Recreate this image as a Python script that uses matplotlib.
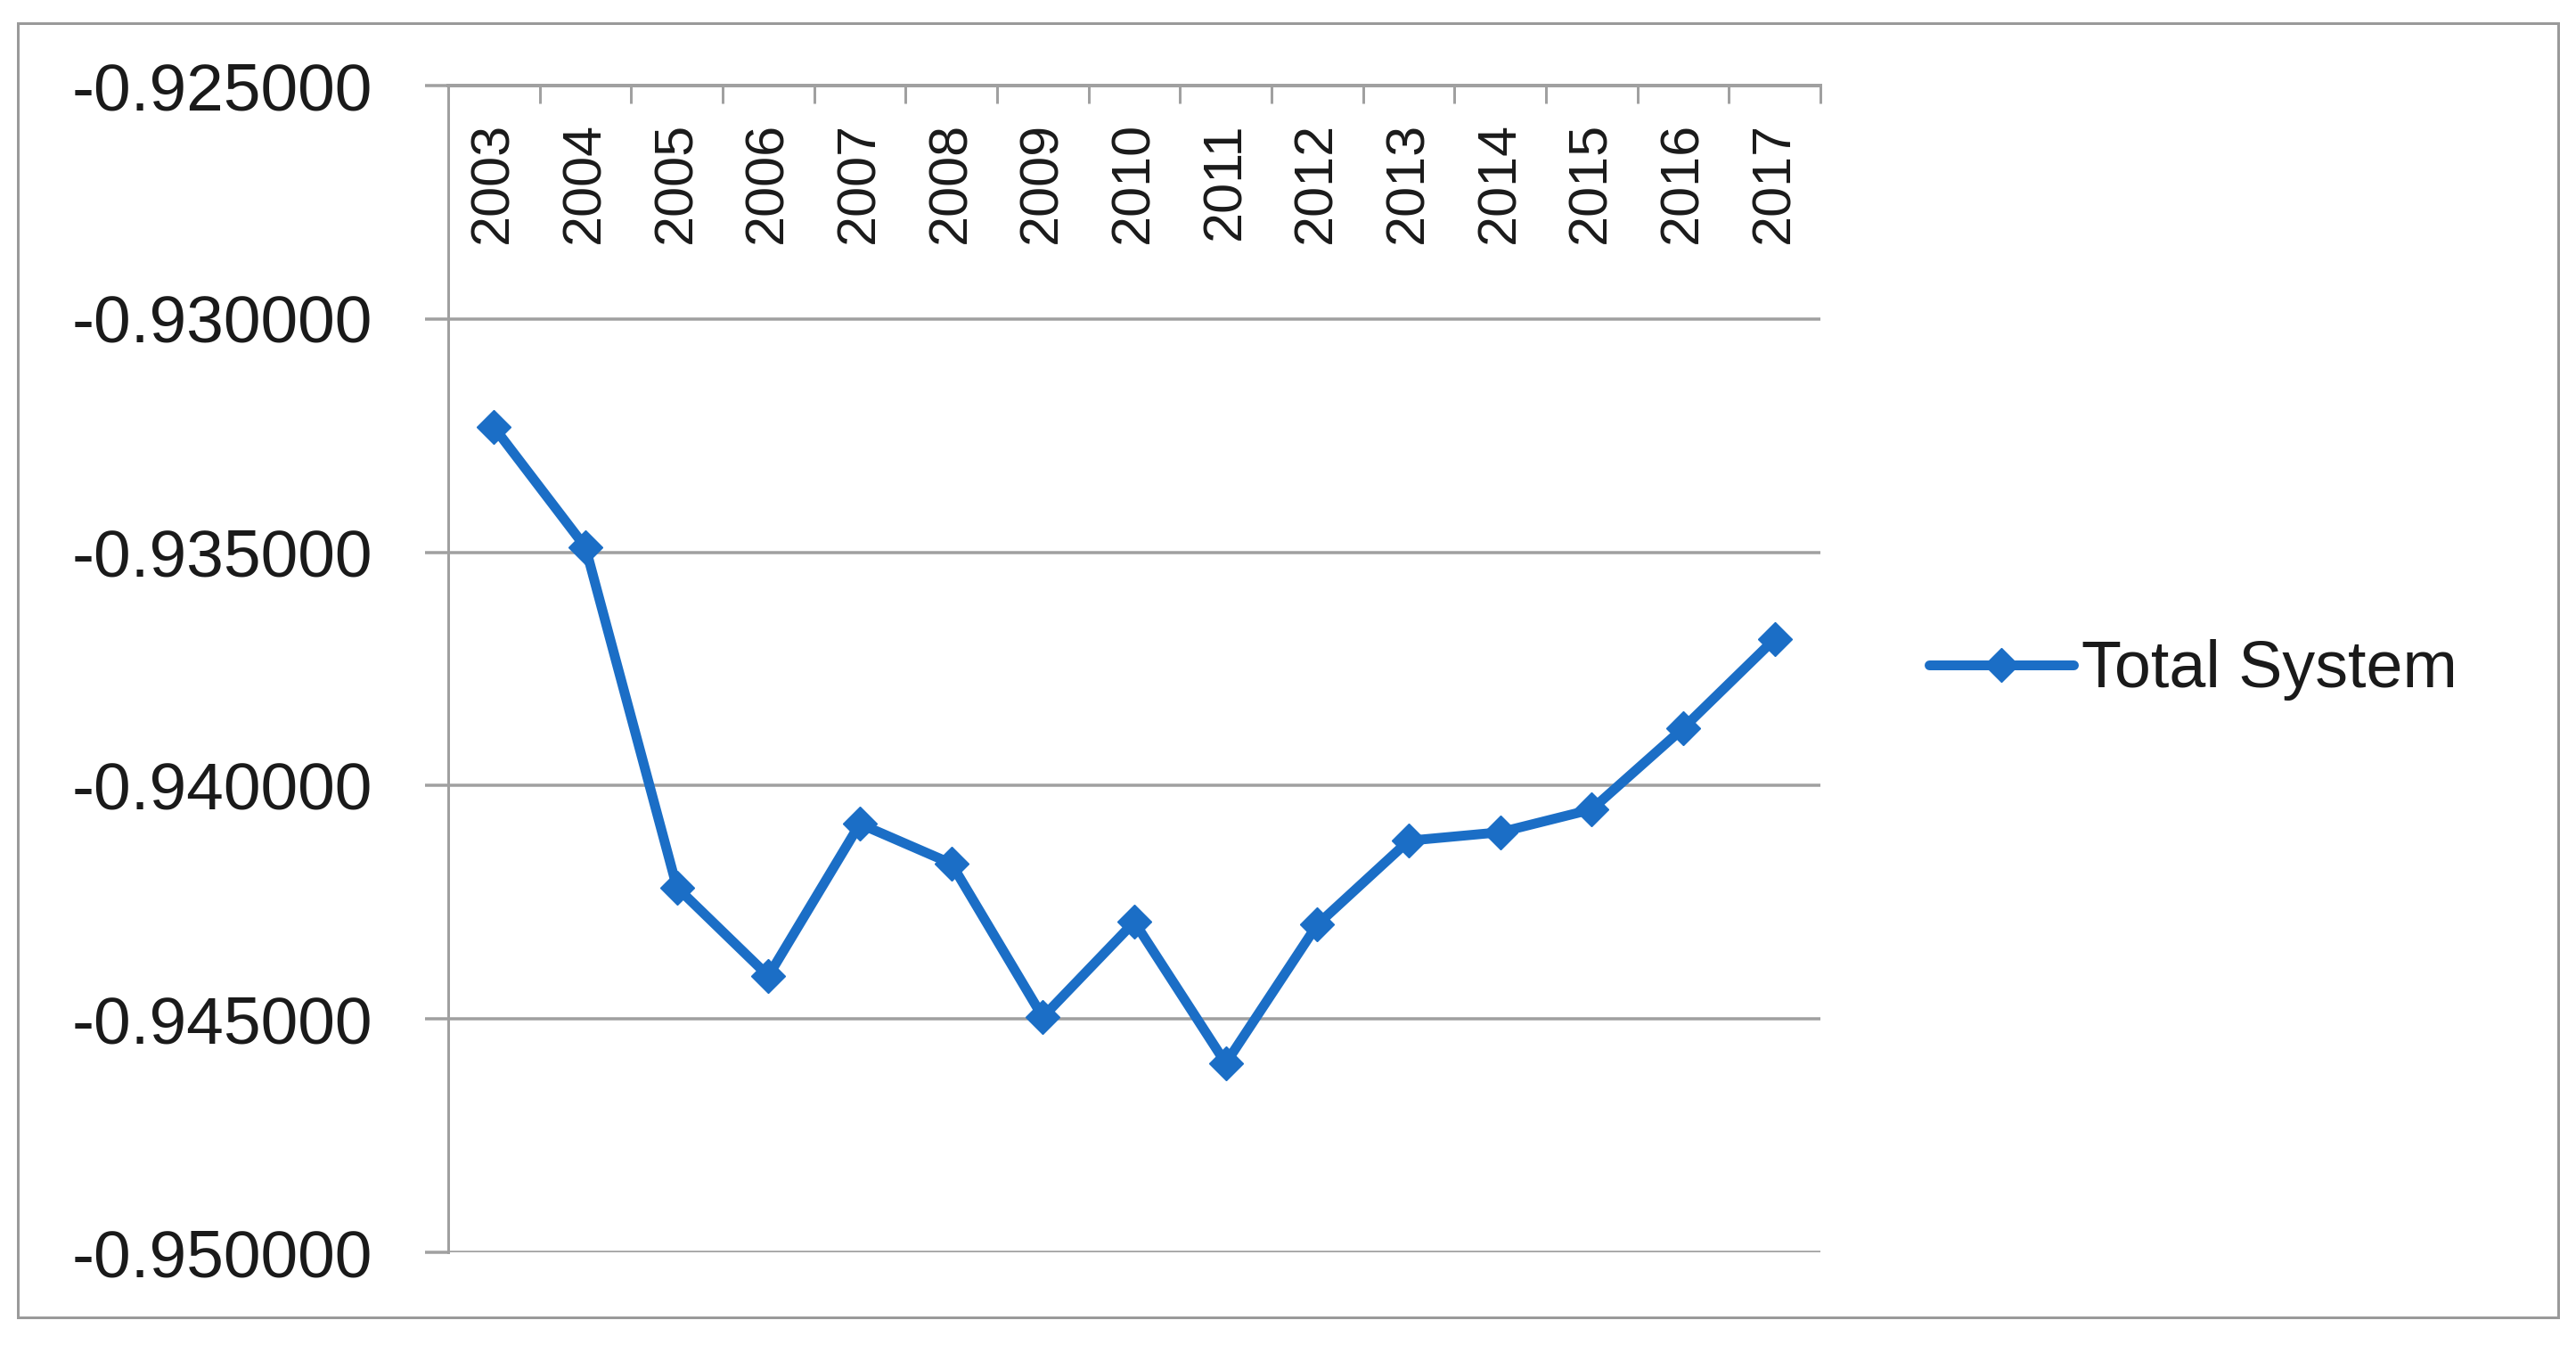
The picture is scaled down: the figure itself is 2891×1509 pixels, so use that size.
import matplotlib
matplotlib.use("Agg")
import matplotlib.pyplot as plt
from matplotlib.patches import Rectangle
from matplotlib.ticker import FormatStrFormatter, MultipleLocator
import matplotlib.transforms as mtransforms

years = ["2003", "2004", "2005", "2006", "2007", "2008", "2009", "2010",
         "2011", "2012", "2013", "2014", "2015", "2016", "2017"]
total_system = [-0.93232, -0.93489, -0.94218, -0.94408, -0.94082, -0.94167,
                -0.94496, -0.94292, -0.94595, -0.94298, -0.94118, -0.94100,
                -0.94051, -0.93877, -0.93686]
series_name = "Total System"
y_min, y_max, y_step = -0.950, -0.925, 0.005

W, H, DPI = 2891, 1509, 100
PX = 72.0 / DPI  # points per pixel

plt.rcParams['font.family'] = ['Liberation Sans', 'DejaVu Sans']

fig = plt.figure(figsize=(W / DPI, H / DPI), dpi=DPI)
fig.patch.set_facecolor('white')

# outer chart frame
fig.patches.append(Rectangle((20 / W, 1 - 1478 / H), (2871 - 20) / W, (1478 - 26) / H,
                             transform=fig.transFigure, fill=False,
                             edgecolor='#9a9a9a', linewidth=3 * PX, zorder=0))

ax_l, ax_r, ax_t, ax_b = 503, 2043, 96, 1405
ax = fig.add_axes([ax_l / W, 1 - ax_b / H, (ax_r - ax_l) / W, (ax_b - ax_t) / H])

grid_c = '#a0a0a0'
line_c = '#1b6ec6'

x = list(range(len(years)))
ax.plot(x, total_system, color=line_c, linewidth=11 * PX, marker='D',
        markersize=19, markeredgewidth=1, markeredgecolor=line_c,
        markerfacecolor=line_c, label=series_name, zorder=3,
        solid_capstyle='round', solid_joinstyle='round')

ax.set_xlim(-0.5, len(years) - 0.5)
ax.set_ylim(y_min, y_max)

# y axis
ax.yaxis.set_major_locator(MultipleLocator(y_step))
ax.yaxis.set_major_formatter(FormatStrFormatter('%.6f'))
ax.yaxis.grid(True, color=grid_c, linewidth=3.5 * PX)
ax.tick_params(axis='y', length=26 * PX, width=3.5 * PX, color=grid_c,
               pad=59 * PX, labelsize=54, labelcolor='#1a1a1a')

# x axis on top with boundary ticks pointing into the plot
ax.xaxis.tick_top()
ax.set_xticks([i - 0.5 for i in range(len(years) + 1)])
ax.set_xticklabels([])
ax.tick_params(axis='x', direction='in', length=20 * PX, width=3 * PX,
               color=grid_c, top=True, bottom=False)

off = mtransforms.offset_copy(ax.get_xaxis_transform(), fig=fig, x=0, y=-41, units='dots')
for i, lab in enumerate(years):
    ax.text(i, 1.0, lab, transform=off, rotation=90, ha='center', va='top',
            fontsize=44, color='#1a1a1a')

for s in ['right', 'bottom']:
    ax.spines[s].set_visible(False)
ax.spines['left'].set_color(grid_c)
ax.spines['left'].set_linewidth(3 * PX)
ax.spines['top'].set_color(grid_c)
ax.spines['top'].set_linewidth(4 * PX)
ax.set_axisbelow(True)

leg = ax.legend(loc='center left', bbox_to_anchor=(2165 / W, 1 - 752 / H),
                bbox_transform=fig.transFigure, frameon=False, fontsize=53,
                handlelength=2.2, handletextpad=0.12, borderpad=0, borderaxespad=0)
for t in leg.get_texts():
    t.set_color('#1a1a1a')

fig.savefig('out.png', dpi=DPI, facecolor='white')
